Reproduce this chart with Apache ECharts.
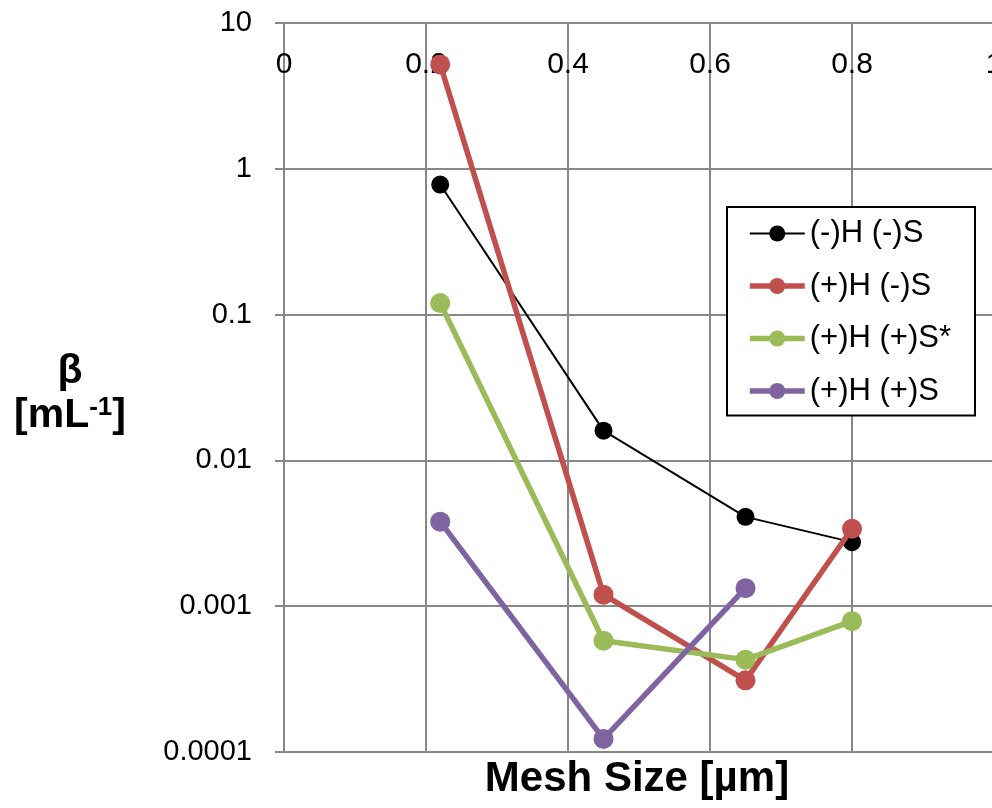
<!DOCTYPE html>
<html>
<head>
<meta charset="utf-8">
<script src="https://cdn.jsdelivr.net/npm/echarts@6/dist/echarts.min.js"></script>
<style>
html,body{margin:0;padding:0;background:#fff;}
#chart{width:992px;height:808px;}
</style>
</head>
<body>
<div id="chart"></div>
<script>
// Data
var meshSizes = [0.22, 0.45, 0.65, 0.8];
var seriesNames = ['(-)H (-)S', '(+)H (-)S', '(+)H (+)S*', '(+)H (+)S'];
var hNegSNeg = [0.78, 0.016, 0.0041, 0.00275];
var hPosSNeg = [5.2, 0.0012, 0.00031, 0.0034];
var hPosSPosStar = [0.12, 0.00058, 0.00043, 0.00079];
var hPosSPos = [0.0038, 0.000123, 0.00133];
var xTickLabels = ['0', '0.2', '0.4', '0.6', '0.8', '1'];
var yTickLabels = ['0.0001', '0.001', '0.01', '0.1', '1', '10'];

var FONT = 'Liberation Sans, Arial, sans-serif';
var GRAY = '#888888';

function pairs(vals) {
  return vals.map(function (v, i) { return [meshSizes[i], v]; });
}

var colors = ['#000000', '#C0504D', '#9BBB59', '#8064A2'];
var values = [hNegSNeg, hPosSNeg, hPosSPosStar, hPosSPos];
var widths = [2, 5.5, 5.5, 5.5];

var series = values.map(function (vals, i) {
  var thin = i === 0;
  return {
    name: seriesNames[i],
    type: 'line',
    data: pairs(vals),
    symbol: 'circle',
    symbolSize: thin ? 18 : 20,
    showSymbol: true,
    lineStyle: { color: colors[i], width: widths[i] },
    itemStyle: { color: colors[i] },
    emphasis: { disabled: true },
    z: 3 + i
  };
});

var legendData = seriesNames.map(function (n, i) {
  return {
    name: n,
    itemStyle: { color: colors[i] },
    lineStyle: { color: colors[i], width: widths[i] }
  };
});

var chart = echarts.init(document.getElementById('chart'));
chart.setOption({
  animation: false,
  backgroundColor: '#ffffff',
  grid: { left: 284, top: 23, right: -2, bottom: 56, containLabel: false, outerBoundsMode: 'none' },
  xAxis: {
    type: 'value',
    position: 'top',
    min: 0,
    max: 1,
    interval: 0.2,
    axisLine: { show: true, lineStyle: { color: GRAY, width: 2 } },
    axisTick: { show: false },
    axisLabel: {
      inside: true,
      margin: 27,
      fontSize: 30,
      color: '#000',
      fontFamily: FONT,
      formatter: function (v) {
        var idx = Math.round(v / 0.2);
        return xTickLabels[idx] !== undefined ? xTickLabels[idx] : '';
      }
    },
    splitLine: { show: true, lineStyle: { color: GRAY, width: 2 } }
  },
  yAxis: {
    type: 'log',
    logBase: 10,
    min: 0.0001,
    max: 10,
    interval: 1,
    axisLine: { show: true, lineStyle: { color: GRAY, width: 2 } },
    axisTick: { show: true, length: 9, inside: false, lineStyle: { color: GRAY, width: 2 } },
    axisLabel: {
      margin: 32,
      fontSize: 29,
      color: '#000',
      fontFamily: FONT,
      formatter: function (v) {
        var e = Math.round(Math.log10(v)) + 4;
        return yTickLabels[e] !== undefined ? yTickLabels[e] : '';
      }
    },
    splitLine: { show: true, lineStyle: { color: GRAY, width: 2 } }
  },
  legend: {
    orient: 'vertical',
    left: 727,
    top: 207,
    data: legendData,
    backgroundColor: '#ffffff',
    borderColor: '#000000',
    borderWidth: 2,
    padding: [11, 24, 9, 20],
    itemWidth: 55,
    itemHeight: 20,
    itemGap: 21.5,
    textStyle: { fontSize: 31, lineHeight: 30, color: '#000', fontFamily: FONT },
    selectedMode: false
  },
  graphic: [
    {
      type: 'text',
      x: 637,
      y: 758,
      style: {
        text: 'Mesh Size [µm]',
        font: 'bold 42px ' + FONT,
        fill: '#000',
        align: 'center',
        verticalAlign: 'top'
      }
    },
    {
      type: 'text',
      x: 70,
      y: 350,
      style: {
        text: '{b|β}\n{b|[mL}{sup|-1}{b|]}',
        align: 'center',
        verticalAlign: 'top',
        rich: {
          b: { font: 'bold 41px ' + FONT, fill: '#000', lineHeight: 44 },
          sup: { font: 'bold 26px ' + FONT, fill: '#000', lineHeight: 44, padding: [0, 0, 16, 0] }
        }
      }
    }
  ],
  series: series
});
</script>
</body>
</html>
